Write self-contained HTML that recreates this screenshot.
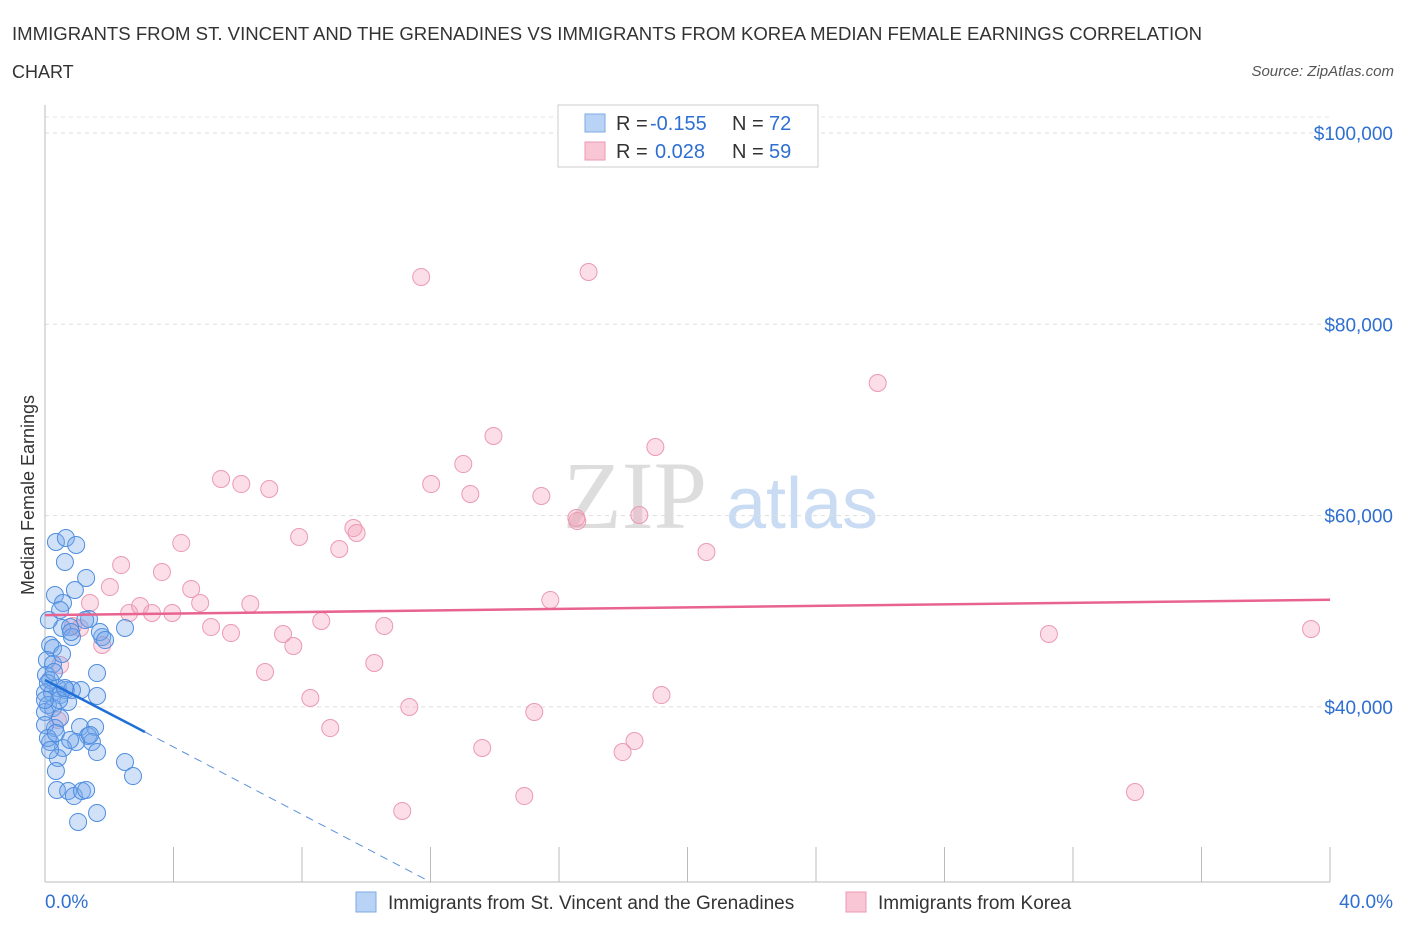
<!DOCTYPE html>
<html><head><meta charset="utf-8"><style>
body{margin:0;background:#fff;font-family:"Liberation Sans",sans-serif;}
</style></head><body>
<svg width="1406" height="930" xmlns="http://www.w3.org/2000/svg" id="chart">
<text x="12" y="40" font-size="18" fill="#333" textLength="1190" lengthAdjust="spacingAndGlyphs">IMMIGRANTS FROM ST. VINCENT AND THE GRENADINES VS IMMIGRANTS FROM KOREA MEDIAN FEMALE EARNINGS CORRELATION</text>
<text x="12" y="78" font-size="18" fill="#333">CHART</text>
<text x="1394" y="76" font-size="15" font-style="italic" fill="#555" text-anchor="end">Source: ZipAtlas.com</text>
<text x="34" y="495" font-size="18" fill="#333" text-anchor="middle" transform="rotate(-90 34 495)">Median Female Earnings</text>
<g><text x="635" y="528" font-size="96" font-family="Liberation Serif,serif" fill="#ddd" text-anchor="middle">ZIP</text><text x="802" y="528" font-size="72" fill="#c9dcf3" text-anchor="middle">atlas</text></g>
<g id="grid"></g><g id="axes"></g><g id="marks"></g>
<g>
<rect x="558" y="105" width="260" height="62" fill="#fff" stroke="#ccc"/>
<rect x="585" y="114" width="20" height="18" fill="#b8d3f5" stroke="#7ea9e0"/>
<rect x="585" y="142" width="20" height="18" fill="#f9c6d5" stroke="#ec9ab3"/>
<text x="616" y="130" font-size="20" fill="#333">R =</text>
<text x="650" y="130" font-size="20" fill="#2e6fd1">-0.155</text>
<text x="732" y="130" font-size="20" fill="#333">N =</text>
<text x="769" y="130" font-size="20" fill="#2e6fd1">72</text>
<text x="616" y="158" font-size="20" fill="#333">R =</text>
<text x="655" y="158" font-size="20" fill="#2e6fd1">0.028</text>
<text x="732" y="158" font-size="20" fill="#333">N =</text>
<text x="769" y="158" font-size="20" fill="#2e6fd1">59</text>
</g>
<g>
<rect x="356" y="892" width="20" height="20" fill="#b8d3f5" stroke="#7ea9e0"/>
<text x="388" y="909" font-size="19" fill="#333">Immigrants from St. Vincent and the Grenadines</text>
<rect x="846" y="892" width="20" height="20" fill="#f9c6d5" stroke="#ec9ab3"/>
<text x="878" y="909" font-size="19" fill="#333">Immigrants from Korea</text>
</g>
</svg>
<script>
const yTicks=[40000,60000,80000,100000];
const yTickLabels=["$40,000","$60,000","$80,000","$100,000"];
const xLabels=["0.0%","40.0%"];
const blueX=[0.34,0.65,0.97,0.62,1.28,0.93,0.31,0.56,1.37,0.53,0.78,2.49,1.78,0.84,0.16,0.25,0.06,0.25,1.62,0.03,0.16,0.40,0.65,1.12,0,0.22,0.47,1.62,0.72,0.09,0.25,0,0.47,1.09,1.56,0.31,1.34,1.46,0.97,1.62,0.56,0.16,0.40,2.49,2.74,0.34,0.37,0.72,0.90,1.15,1.28,1.03,1.62,0,0.09,0.34,0.44,0.84,0.62,0,0.09,0.28,0.53,0.81,1.71,0.12,0.47,1.87,1.25,0.16,0.78,1.40];
const blueY=[57240,57660,56930,55150,53480,52220,51700,50860,49190,48250,48350,48250,47310,47310,46470,46160,44900,44480,43540,43330,42810,41970,41770,41770,41450,41450,41240,41140,40510,40200,39880,39470,38840,37900,37900,37790,36960,36330,36330,35280,35700,36330,34660,34240,32770,33300,31310,31210,30680,31210,31310,27970,28910,38110,36750,37270,40720,41770,41970,40720,42500,43650,45530,47830,47830,49080,50130,46990,49080,35490,36540,37060];
const pinkX=[11.71,16.92,25.92,13.96,19.00,13.02,5.48,6.11,6.98,12.02,13.24,15.45,18.50,16.54,16.57,9.60,9.70,7.91,9.16,4.24,20.59,2.37,3.64,2.02,4.55,2.62,2.96,3.33,3.96,4.83,6.39,15.73,1.40,5.17,5.79,7.41,7.73,8.60,10.56,31.25,39.41,0.87,1.09,1.78,6.85,10.25,8.26,19.19,11.34,15.23,8.88,13.61,18.35,17.98,14.92,11.12,33.93,0.47,0.40];
const pinkY=[84950,85470,73860,68320,67170,65390,63830,63300,62780,63300,62260,62050,60060,59750,59430,58700,58180,57760,56510,57130,56190,54830,54100,52530,52330,49820,50550,49820,49820,50860,50760,51180,50860,48350,47720,47620,46370,48980,48460,47620,48140,48460,48250,46470,43650,44590,40930,41240,39990,39470,37790,35700,36430,35280,30680,29120,31100,44380,38630];
const blueFit=[[0,42810],[3.11,37380],[12,21690]];
const pinkFit=[[0,49600],[40,51200]];
const NS="http://www.w3.org/2000/svg";
const xs=v=>45+v/40*1285, ys=v=>133+(100000-v)/20000*191.3;
function el(t,a,p,name){const e=document.createElementNS(NS,t);for(const k in a)e.setAttribute(k,a[k]);document.getElementById(p).appendChild(e);return e;}
yTicks.forEach((v,i)=>{el('line',{x1:45,x2:1330,y1:ys(v),y2:ys(v),stroke:'#ddd','stroke-dasharray':'4 4'},'grid','gridline');
const t=el('text',{x:1393,y:ys(v)+7,'font-size':19,fill:'#2e6fd1','text-anchor':'end'},'axes','y-tick-label');t.textContent=yTickLabels[i];});
el('line',{x1:45,x2:1330,y1:117,y2:117,stroke:'#e5e5e5','stroke-dasharray':'4 4'},'grid','gridline-top');
el('line',{x1:45,x2:45,y1:105,y2:882,stroke:'#bbb'},'axes','y-axis-line');
el('line',{x1:45,x2:1330,y1:882,y2:882,stroke:'#bbb'},'axes','x-axis-line');
for(let i=1;i<=10;i++)el('line',{x1:xs(i*4),x2:xs(i*4),y1:847,y2:882,stroke:'#bbb'},'axes','x-tick');
let t=el('text',{x:45,y:908,'font-size':19,fill:'#2e6fd1'},'axes','x-tick-label');t.textContent=xLabels[0];
t=el('text',{x:1393,y:908,'font-size':19,fill:'#2e6fd1','text-anchor':'end'},'axes','x-tick-label');t.textContent=xLabels[1];
pinkX.forEach((x,i)=>el('circle',{cx:xs(x),cy:ys(pinkY[i]),r:8.5,fill:'rgba(244,160,187,0.35)',stroke:'#eb9ab3','stroke-width':1},'marks','pink-point'));
blueX.forEach((x,i)=>el('circle',{cx:xs(x),cy:ys(blueY[i]),r:8.5,fill:'rgba(120,170,235,0.35)',stroke:'#4f8ee0','stroke-width':1},'marks','blue-point'));
el('line',{x1:xs(pinkFit[0][0]),y1:ys(pinkFit[0][1]),x2:xs(pinkFit[1][0]),y2:ys(pinkFit[1][1]),stroke:'#e8638f','stroke-width':2.5},'marks','pink-trendline');
el('line',{x1:xs(blueFit[0][0]),y1:ys(blueFit[0][1]),x2:xs(blueFit[1][0]),y2:ys(blueFit[1][1]),stroke:'#1f6fd6','stroke-width':2.5},'marks','blue-trendline');
el('line',{x1:xs(blueFit[1][0]),y1:ys(blueFit[1][1]),x2:xs(blueFit[2][0]),y2:ys(blueFit[2][1]),stroke:'#5b90dc','stroke-width':1,'stroke-dasharray':'8 6'},'marks','blue-trendline-extension');
</script>
</body></html>
